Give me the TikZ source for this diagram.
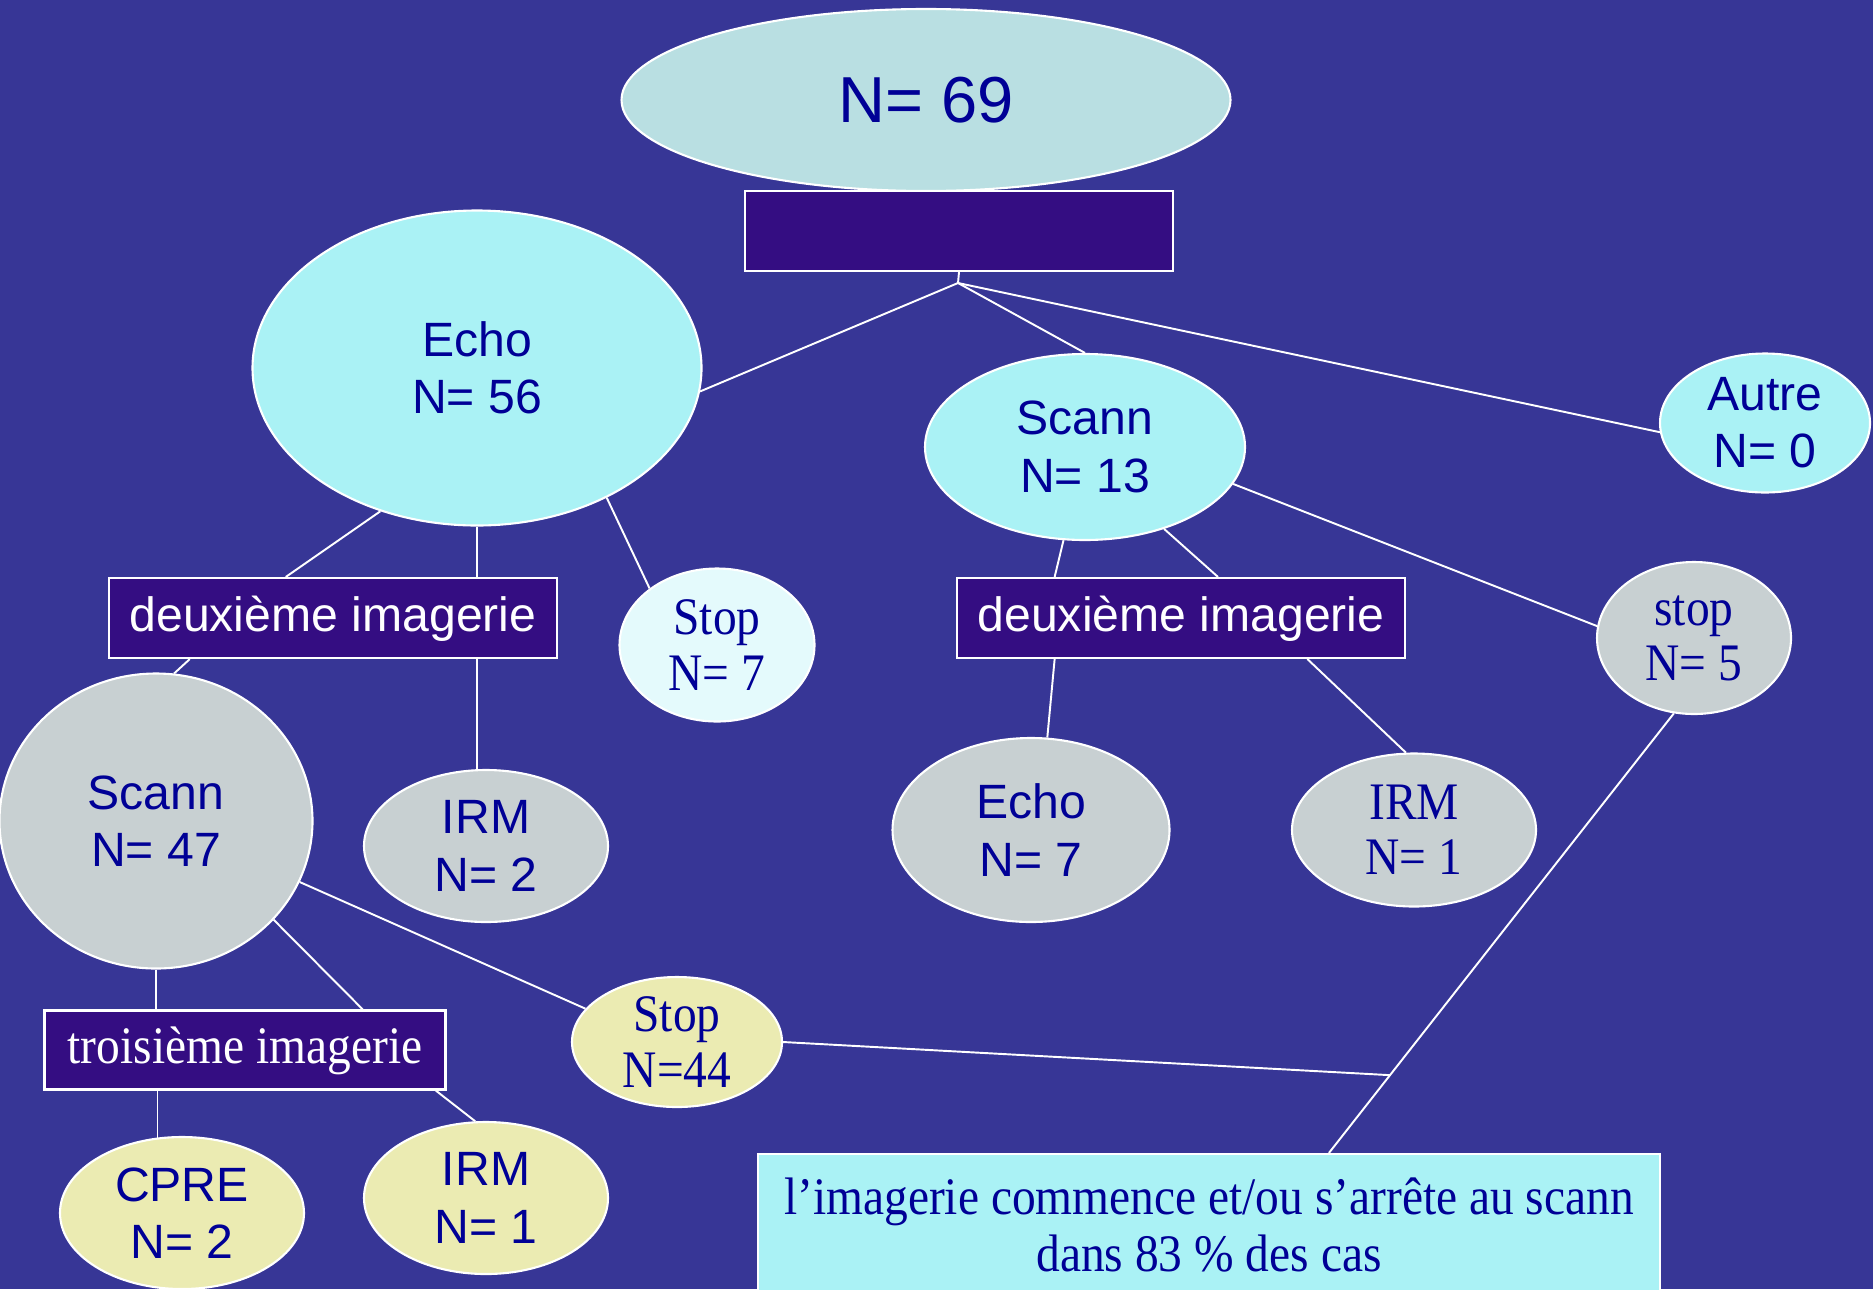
\documentclass[tikz,border=0pt]{standalone}
\usepackage{fontspec}
\setmainfont{Liberation Sans}
\newfontfamily\timesfont[FakeStretch=0.9]{Liberation Serif}
\usepackage{tikz}
\usetikzlibrary{shapes.geometric,calc}

\definecolor{fondbleu}{RGB}{55,54,150}
\definecolor{violetfonce}{RGB}{52,13,130}
\definecolor{bleutexte}{RGB}{0,0,150}
\definecolor{grisbleu}{RGB}{185,223,226}
\definecolor{cyanclair}{RGB}{170,242,245}
\definecolor{cyanpale}{RGB}{228,250,252}
\definecolor{gris}{RGB}{200,208,210}
\definecolor{jaunepale}{RGB}{235,235,178}

\begin{document}
\begin{tikzpicture}[x=0.1mm,y=-0.1mm,
  lien/.style={draw=white,line width=0.55pt},
  bulle/.style={ellipse,draw=white,line width=0.6pt,inner sep=0pt,align=center,
    text=bleutexte,font=\fontsize{13.7}{16.3}\selectfont},
  bulletimes/.style={bulle,font=\timesfont\fontsize{15}{15.7}\selectfont},
  etape/.style={rectangle,draw=white,line width=0.6pt,fill=violetfonce,text=white,
    inner sep=0pt,text height=0.95em,text depth=0.2em,minimum width=44.8mm,minimum height=8mm,
    font=\fontsize{13.7}{16.3}\selectfont}]
  \clip (0,0) rectangle (1873,1289);
  \fill[fondbleu] (0,0) rectangle (1873,1289);

  % premier niveau
  \node[bulle,fill=grisbleu,minimum width=60.9mm,minimum height=18.2mm,
    font=\fontsize{18.5}{22}\selectfont] (total) at (926,100) {N= 69};
  \node[etape,minimum width=42.8mm] (titre) at (959,231) {};
  \coordinate (j1) at (958,283);

  \node[bulle,fill=cyanclair,minimum width=44.9mm,minimum height=31.5mm] (echo) at (477,368) {Echo\\N= 56};
  \node[bulle,fill=cyanclair,minimum width=32mm,minimum height=18.6mm] (scannB) at (1085,447) {Scann\\N= 13};
  \node[bulle,fill=cyanclair,minimum width=21mm,minimum height=13.9mm] (autre) at (1765,423) {Autre\\N= 0};

  % deuxieme imagerie
  \node[etape] (deuxA) at (333,618) {deuxième imagerie};
  \node[etape] (deuxB) at (1181,618) {deuxième imagerie};
  \node[bulletimes,fill=cyanpale,minimum width=19.5mm,minimum height=15.3mm] (stopA) at (717,645) {Stop\\N= 7};
  \node[bulletimes,fill=gris,minimum width=19.4mm,minimum height=15.2mm] (stopB) at (1694,638) {stop\\N= 5};
  \node[bulle,fill=gris,minimum width=31.3mm,minimum height=29.5mm] (scannA) at (156,821) {Scann\\N= 47};
  \node[bulle,fill=gris,minimum width=24.4mm,minimum height=15.2mm] (irmA) at (486,846) {IRM\\N= 2};
  \node[bulle,fill=gris,minimum width=27.7mm,minimum height=18.4mm] (echoB) at (1031,830) {Echo\\N= 7};
  \node[bulletimes,fill=gris,minimum width=24.4mm,minimum height=15.3mm] (irmB) at (1414,830) {IRM\\N= 1};

  % troisieme imagerie
  \node[bulletimes,fill=jaunepale,minimum width=21mm,minimum height=13mm] (stopC) at (677,1042) {Stop\\N=44};
  \node[etape,minimum width=40.1mm,minimum height=7.9mm,
    font=\timesfont\fontsize{15}{16}\selectfont] (troisA) at (245,1050) {troisième imagerie};
  \node[bulle,fill=jaunepale,minimum width=24.4mm,minimum height=15.2mm] (cpre) at (182,1213) {CPRE\\N= 2};
  \node[bulle,fill=jaunepale,minimum width=24.4mm,minimum height=15.2mm] (irmC) at (486,1198) {IRM\\N= 1};

  \node[rectangle,draw=white,line width=0.6pt,fill=cyanclair,text=bleutexte,align=center,inner sep=0pt,
    minimum width=90.2mm,minimum height=14.2mm,font=\timesfont\fontsize{15}{16.3}\selectfont]
    (bilan) at (1209,1225) {l’imagerie commence et/ou s’arrête au scann\\dans 83 \% des cas};

  % liens
  \draw[lien] (titre.south) -- (j1);
  \draw[lien] (j1) -- (echo.-6);
  \draw[lien] (j1) -- (scannB.north);
  \draw[lien] (j1) -- (autre.185);
  \draw[lien] (echo.236) -- (deuxA.139);
  \draw[lien] (echo.south) -- (echo.south |- deuxA.north);
  \draw[lien] (echo.-45) -- (stopA.140);
  \draw[lien] (deuxA.196) -- (scannA.83);
  \draw[lien] (echo.south |- deuxA.south) -- (echo.south |- irmA.north);
  \draw[lien] (scannB.257) -- (deuxB.162);
  \draw[lien] (scannB.-46) -- (deuxB.48);
  \draw[lien] (scannB.-14) -- (stopB.173);
  \draw[lien] (deuxB.198) -- (echoB.80);
  \draw[lien] (deuxB.-18) -- (irmB.96);
  \draw[lien] (scannA.south) -- (scannA.south |- troisA.north);
  \draw[lien] (scannA.-40) -- (troisA.19);
  \draw[lien] (scannA.-23) -- (stopC.160);
  \draw[lien] (cpre.108 |- troisA.south) -- (cpre.108);
  \draw[lien] (troisA.-12) -- (irmC.98);
  \coordinate (j2) at ($(stopB.255)!0.823!(bilan.31)$);
  \draw[lien] (stopB.255) -- (bilan.31);
  \draw[lien] (stopC.east) -- (j2);
\end{tikzpicture}
\end{document}
